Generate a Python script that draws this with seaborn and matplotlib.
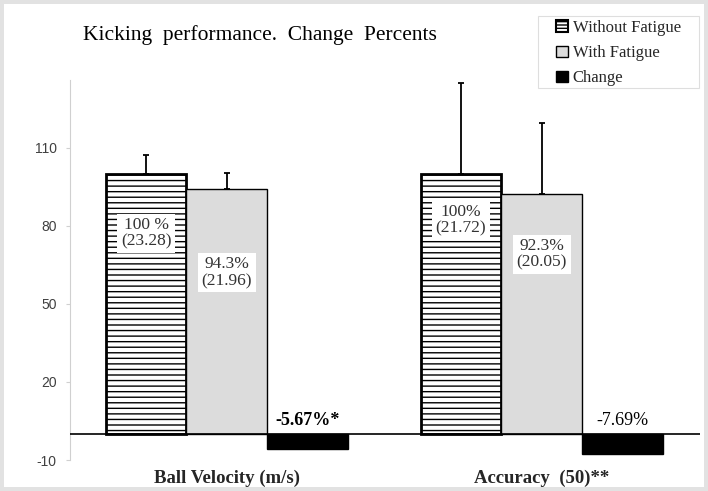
import numpy as np
import pandas as pd
import matplotlib
matplotlib.use('Agg')
import matplotlib.pyplot as plt
from matplotlib.patches import Patch, Rectangle
import seaborn as sns

# data
groups = ['Ball Velocity (m/s)', 'Accuracy  (50)**']
conditions = ['Without Fatigue', 'With Fatigue', 'Change']
without_fatigue = [100, 100]
with_fatigue = [94.3, 92.3]
change = [-5.67, -7.69]
err_without = [7, 35]
err_with = [6, 27]
labels_without = ['100 %\n(23.28)', '100%\n(21.72)']
labels_with = ['94.3%\n(21.96)', '92.3%\n(20.05)']
labels_change = ['-5.67%*', '-7.69%']
ticks = [-10, 20, 50, 80, 110]

df = pd.DataFrame({
    'group': groups * 3,
    'condition': [c for c in conditions for _ in groups],
    'value': without_fatigue + with_fatigue + change,
})

sns.set_style('white')
plt.rcParams['font.family'] = ['Liberation Serif', 'DejaVu Serif']
plt.rcParams['hatch.linewidth'] = 1.0
plt.rcParams['axes.unicode_minus'] = False

fig = plt.figure(figsize=(7.08, 4.91), dpi=100, facecolor='#e2e2e2')
# white card inside the grey frame
fig.patches.append(Rectangle((4 / 708, 4 / 491), 700 / 708, 483 / 491,
                             transform=fig.transFigure, facecolor='white',
                             edgecolor='none', zorder=-10))
# legend frame
fig.patches.append(Rectangle((538 / 708, 1 - 88 / 491), 161 / 708, 72 / 491,
                             transform=fig.transFigure, facecolor='white',
                             edgecolor='#dedede', lw=0.8, zorder=-5))
ax = fig.add_axes([70 / 708, 31 / 491, 630 / 708, 380 / 491])
ax.set_facecolor('none')

palette = {'Without Fatigue': 'white', 'With Fatigue': '#dcdcdc', 'Change': 'black'}
sns.barplot(data=df, x='group', y='value', hue='condition', order=groups,
            hue_order=conditions, palette=palette, width=0.77, legend=False,
            errorbar=None, ax=ax, zorder=2)

errs = {'Without Fatigue': err_without, 'With Fatigue': err_with}
for cont, cond in zip(ax.containers, conditions):
    for i, bar in enumerate(cont.patches):
        bar.set_edgecolor('black')
        if cond == 'Without Fatigue':
            bar.set_hatch('---')
            bar.set_linewidth(2)
        else:
            bar.set_linewidth(1)
        if cond in errs:
            xc = bar.get_x() + bar.get_width() / 2
            h = bar.get_height()
            ax.errorbar(xc, h, yerr=[[0], [errs[cond][i]]], fmt='none',
                        ecolor='black', elinewidth=1.3, capsize=2.5, capthick=1.3,
                        zorder=1)

ypos_without = [77, 82]
ypos_with = [62, 69]
for i in range(len(groups)):
    b0 = ax.containers[0].patches[i]
    b1 = ax.containers[1].patches[i]
    b2 = ax.containers[2].patches[i]
    box = dict(facecolor='white', edgecolor='none', pad=2.5)
    ax.text(b0.get_x() + b0.get_width() / 2, ypos_without[i], labels_without[i],
            ha='center', va='center', fontsize=12.5, color='#333333', bbox=box,
            linespacing=1.05, zorder=5)
    ax.text(b1.get_x() + b1.get_width() / 2, ypos_with[i], labels_with[i],
            ha='center', va='center', fontsize=12.5, color='#333333', bbox=box,
            linespacing=1.05, zorder=5)
    ax.text(b2.get_x() + b2.get_width() / 2, 1.8, labels_change[i],
            ha='center', va='bottom', fontsize=13,
            fontweight='bold' if i == 0 else 'normal', color='black', zorder=5)

ax.axhline(0, color='black', lw=1.2, zorder=3)
ax.set_xlim(-0.498, 1.502)
ax.set_ylim(-10, 136)
ax.set_yticks(ticks)
ax.set_xlabel('')
ax.set_ylabel('')
for s in ['top', 'right', 'bottom']:
    ax.spines[s].set_visible(False)
ax.spines['left'].set_color('#d0d0d0')
ax.tick_params(axis='y', left=True, length=3, color='#d0d0d0', labelsize=10,
               labelcolor='#404040', pad=6.5)
for lab in ax.get_yticklabels():
    lab.set_family('Liberation Sans')
ax.tick_params(axis='x', length=0, pad=7)
for lab in ax.get_xticklabels():
    lab.set_fontweight('bold')
    lab.set_fontsize(13.5)

fig.text(83 / 708, 1 - 35 / 491, 'Kicking  performance.  Change  Percents',
         fontsize=15.5, va='center', ha='left', color='black')

handles = [Patch(facecolor='white', edgecolor='black', hatch='-----', linewidth=1.5),
           Patch(facecolor='#dcdcdc', edgecolor='black', linewidth=1),
           Patch(facecolor='black', edgecolor='black')]
leg = fig.legend(handles, conditions, loc='upper left',
                 bbox_to_anchor=(556 / 708, 1 - 20 / 491), fontsize=12,
                 frameon=False, handlelength=0.7, handleheight=0.7,
                 handletextpad=0.3, borderpad=0, labelspacing=0.55,
                 borderaxespad=0)

fig.savefig('out.png', dpi=100, facecolor=fig.get_facecolor())
